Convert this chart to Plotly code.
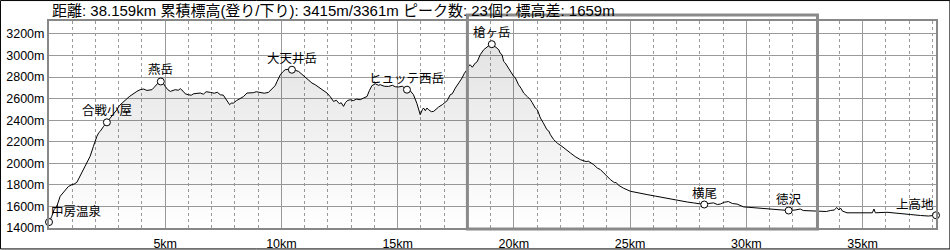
import plotly.graph_objects as go

# ---- data ----
dist_km = [0.00, 0.12, 0.22, 0.34, 0.48, 0.70, 0.83, 0.99, 1.08, 1.20, 1.34, 1.45, 1.56, 1.67, 1.77,
           1.91, 1.99, 2.06, 2.14, 2.20, 2.35, 2.49, 2.59, 2.71, 2.81, 2.92, 3.02, 3.14, 3.24, 3.35,
           3.45, 3.57, 3.67, 3.78, 3.92, 4.07, 4.21, 4.31, 4.43, 4.53, 4.64, 4.72, 4.81, 4.91, 5.00,
           5.11, 5.22, 5.34, 5.43, 5.56, 5.65, 5.77, 5.86, 5.99, 6.12, 6.22, 6.36, 6.51, 6.64, 6.76,
           6.94, 7.11, 7.24, 7.37, 7.50, 7.58, 7.67, 7.77, 7.84, 7.94, 8.06, 8.23, 8.36, 8.52, 8.66,
           8.79, 8.92, 9.09, 9.26, 9.44, 9.52, 9.66, 9.73, 9.81, 9.88, 9.95, 10.06, 10.16, 10.29, 10.45,
           10.59, 10.74, 10.85, 11.02, 11.15, 11.31, 11.45, 11.67, 11.80, 11.96, 12.10, 12.24, 12.36, 12.49, 12.57,
           12.67, 12.75, 12.83, 12.96, 13.09, 13.22, 13.39, 13.52, 13.68, 13.78, 13.89, 14.04, 14.17, 14.25, 14.42,
           14.61, 14.77, 14.90, 15.04, 15.20, 15.40, 15.54, 15.68, 15.83, 15.91, 15.97, 16.06, 16.11, 16.19, 16.26,
           16.33, 16.45, 16.55, 16.66, 16.76, 16.92, 17.05, 17.13, 17.26, 17.35, 17.48, 17.62, 17.77, 17.87, 17.98,
           18.06, 18.12, 18.21, 18.34, 18.42, 18.55, 18.70, 18.84, 18.94, 19.05, 19.16, 19.27, 19.35, 19.41, 19.49,
           19.56, 19.63, 19.77, 19.84, 19.99, 20.06, 20.20, 20.32, 20.42, 20.58, 20.71, 20.79, 20.92, 21.01, 21.14,
           21.26, 21.42, 21.50, 21.57, 21.71, 21.87, 22.07, 22.25, 22.43, 22.64, 22.86, 23.11, 23.20, 23.43, 23.59,
           23.72, 23.93, 24.15, 24.32, 24.40, 24.49, 24.71, 25.01, 25.35, 25.73, 26.08, 26.44, 26.82, 27.16, 27.46,
           27.73, 27.98, 28.19, 28.36, 28.59, 28.75, 28.88, 29.05, 29.23, 29.40, 29.60, 29.88, 30.17, 30.47, 30.74,
           31.03, 31.38, 31.82, 32.10, 32.32, 32.45, 32.90, 33.18, 33.44, 33.61, 33.78, 33.89, 33.98, 34.05, 34.13,
           34.33, 34.76, 35.16, 35.42, 35.49, 35.55, 36.05, 36.33, 36.63, 37.06, 37.49, 37.83, 38.159]

elev_m = [1455, 1509, 1571, 1602, 1694, 1757, 1784, 1803, 1807, 1824, 1880, 1923, 1972, 2016, 2065,
          2157, 2210, 2250, 2284, 2296, 2343, 2380, 2405, 2435, 2470, 2497, 2534, 2559, 2581, 2596,
          2618, 2636, 2655, 2667, 2683, 2689, 2676, 2678, 2683, 2706, 2729, 2752, 2759, 2747, 2713,
          2683, 2667, 2678, 2683, 2678, 2692, 2669, 2645, 2636, 2632, 2645, 2645, 2652, 2641, 2664,
          2658, 2650, 2659, 2636, 2632, 2606, 2571, 2544, 2558, 2559, 2581, 2606, 2618, 2652, 2650,
          2655, 2664, 2658, 2650, 2658, 2673, 2698, 2720, 2759, 2794, 2821, 2849, 2868, 2872, 2868,
          2863, 2852, 2831, 2806, 2775, 2745, 2729, 2698, 2673, 2652, 2618, 2574, 2585, 2553, 2562,
          2528, 2562, 2581, 2590, 2581, 2595, 2590, 2604, 2620, 2673, 2720, 2738, 2724, 2729, 2715,
          2713, 2724, 2710, 2708, 2715, 2683, 2673, 2636, 2553, 2497, 2451, 2497, 2513, 2488, 2513,
          2497, 2479, 2482, 2507, 2522, 2544, 2565, 2581, 2636, 2645, 2698, 2738, 2791, 2835, 2868,
          2905, 2914, 2891, 2930, 2942, 3007, 3053, 3083, 3095, 3105, 3090, 3069, 3053, 3022, 3007,
          2945, 2930, 2883, 2852, 2806, 2794, 2729, 2692, 2652, 2618, 2590, 2562, 2513, 2497, 2420,
          2377, 2312, 2300, 2266, 2220, 2187, 2157, 2122, 2096, 2062, 2034, 2016, 2020, 1988, 1956,
          1942, 1895, 1849, 1821, 1822, 1798, 1770, 1741, 1724, 1710, 1696, 1680, 1664, 1648, 1641,
          1633, 1622, 1618, 1627, 1633, 1618, 1622, 1639, 1645, 1627, 1622, 1596, 1590, 1585, 1581,
          1573, 1567, 1562, 1567, 1576, 1562, 1556, 1550, 1553, 1562, 1567, 1590, 1567, 1585, 1557,
          1541, 1541, 1539, 1541, 1576, 1541, 1546, 1539, 1530, 1525, 1516, 1511, 1518]

wp_names = ["中房温泉", "合戦小屋", "燕岳", "大天井岳", "ヒュッテ西岳", "槍ヶ岳", "横尾", "徳沢", "上高地"]
wp_km = [0.00, 2.49, 4.81, 10.45, 15.40, 19.05, 28.19, 31.82, 38.159]
wp_elev = [1455, 2380, 2759, 2868, 2683, 3105, 1618, 1562, 1518]
wp_xanchor = ["left", "center", "center", "center", "center", "center", "center", "center", "right"]

summary = "距離: 38.159km 累積標高(登り/下り): 3415m/3361m ピーク数: 23個? 標高差: 1659m"

x_ticks = [5, 10, 15, 20, 25, 30, 35]
x_tick_text = [f"{v}km" for v in x_ticks]
x_minor = [k for k in range(1, 39) if k % 5 != 0]
y_ticks = [1400, 1600, 1800, 2000, 2200, 2400, 2600, 2800, 3000, 3200]
y_tick_text = [f"{v}m" for v in y_ticks]

X_MAX = 38.159
Y_RANGE = [1400, 3320]
select_km = [18.0, 33.06]   # highlighted range box

FONT = "Liberation Sans, Arial, Noto Sans CJK JP, sans-serif"
GRID = "#9a9a9a"

fig = go.Figure()
fig.add_trace(go.Scatter(
    x=dist_km, y=elev_m, mode="lines", xaxis="x", yaxis="y",
    line=dict(color="#000000", width=1),
    fill="tozeroy",
    fillgradient=dict(type="vertical", start=1400, stop=3110,
                      colorscale=[[0, "rgba(0,0,0,0)"], [1, "rgba(0,0,0,0.11)"]]),
    hoverinfo="skip", showlegend=False,
))
fig.add_trace(go.Scatter(
    x=wp_km, y=wp_elev, mode="markers", xaxis="x2", yaxis="y",
    marker=dict(size=7, color="white", line=dict(color="#000000", width=1)),
    showlegend=False, hoverinfo="skip", cliponaxis=False,
))

shift_for = {"left": 0, "center": 0, "right": 0}
for n, k, e, xa in zip(wp_names, wp_km, wp_elev, wp_xanchor):
    fig.add_annotation(x=k, y=e, xref="x", yref="y", text=n, showarrow=False,
                       xanchor=xa, yanchor="middle", xshift=shift_for[xa], yshift=11,
                       font=dict(family=FONT, size=12.5, color="#000000"))

fig.add_annotation(xref="paper", yref="paper", x=0, y=1, xanchor="left", yanchor="middle",
                   xshift=1, yshift=11, text=summary, showarrow=False,
                   font=dict(family=FONT, size=15, color="#000000"))

plot_w = 950 - 49 - 14.4
plot_h = 250 - 21 - 21.5
# highlighted range rectangle
fig.add_shape(type="rect", xref="paper", yref="paper",
              x0=select_km[0] / X_MAX, x1=select_km[1] / X_MAX,
              y0=-1.0 / plot_h, y1=(228.5 - 15) / plot_h,
              line=dict(color="#8a8a8a", width=3), fillcolor="rgba(0,0,0,0)")
# outer frame around the whole picture
fig.add_shape(type="rect", xref="paper", yref="paper",
              x0=(0.5 - 49) / plot_w, x1=(949.5 - 49) / plot_w,
              y0=-(249.5 - 228.5) / plot_h, y1=(228.5 - 0.5) / plot_h,
              line=dict(color="#000000", width=1), fillcolor="rgba(0,0,0,0)")

fig.update_layout(
    width=950, height=250, autosize=False,
    margin=dict(l=49, r=14.4, t=21, b=21.5),
    paper_bgcolor="white", plot_bgcolor="white",
    font=dict(family=FONT, size=12.5, color="#000000"),
    # 1 km dashed grid
    xaxis=dict(range=[0, X_MAX], tickmode="array", tickvals=x_minor,
               showticklabels=False, showgrid=True, gridcolor=GRID, gridwidth=1,
               griddash="3px,3px",
               showline=True, mirror=True, linecolor="#888888", linewidth=2,
               zeroline=False, ticks="", automargin=False, fixedrange=True),
    # 5 km solid grid with labels
    xaxis2=dict(range=[0, X_MAX], overlaying="x", side="bottom", anchor="y",
                tickmode="array", tickvals=x_ticks, ticktext=x_tick_text,
                showgrid=True, gridcolor=GRID, gridwidth=1, showline=False,
                zeroline=False, ticks="", ticklabelstandoff=6,
                automargin=False, fixedrange=True),
    yaxis=dict(range=Y_RANGE, tickmode="array", tickvals=y_ticks, ticktext=y_tick_text,
               showgrid=True, gridcolor=GRID, gridwidth=1,
               showline=True, mirror=True, linecolor="#888888", linewidth=2,
               zeroline=False, ticks="", automargin=False, fixedrange=True),
)

fig.write_html("out.html")
